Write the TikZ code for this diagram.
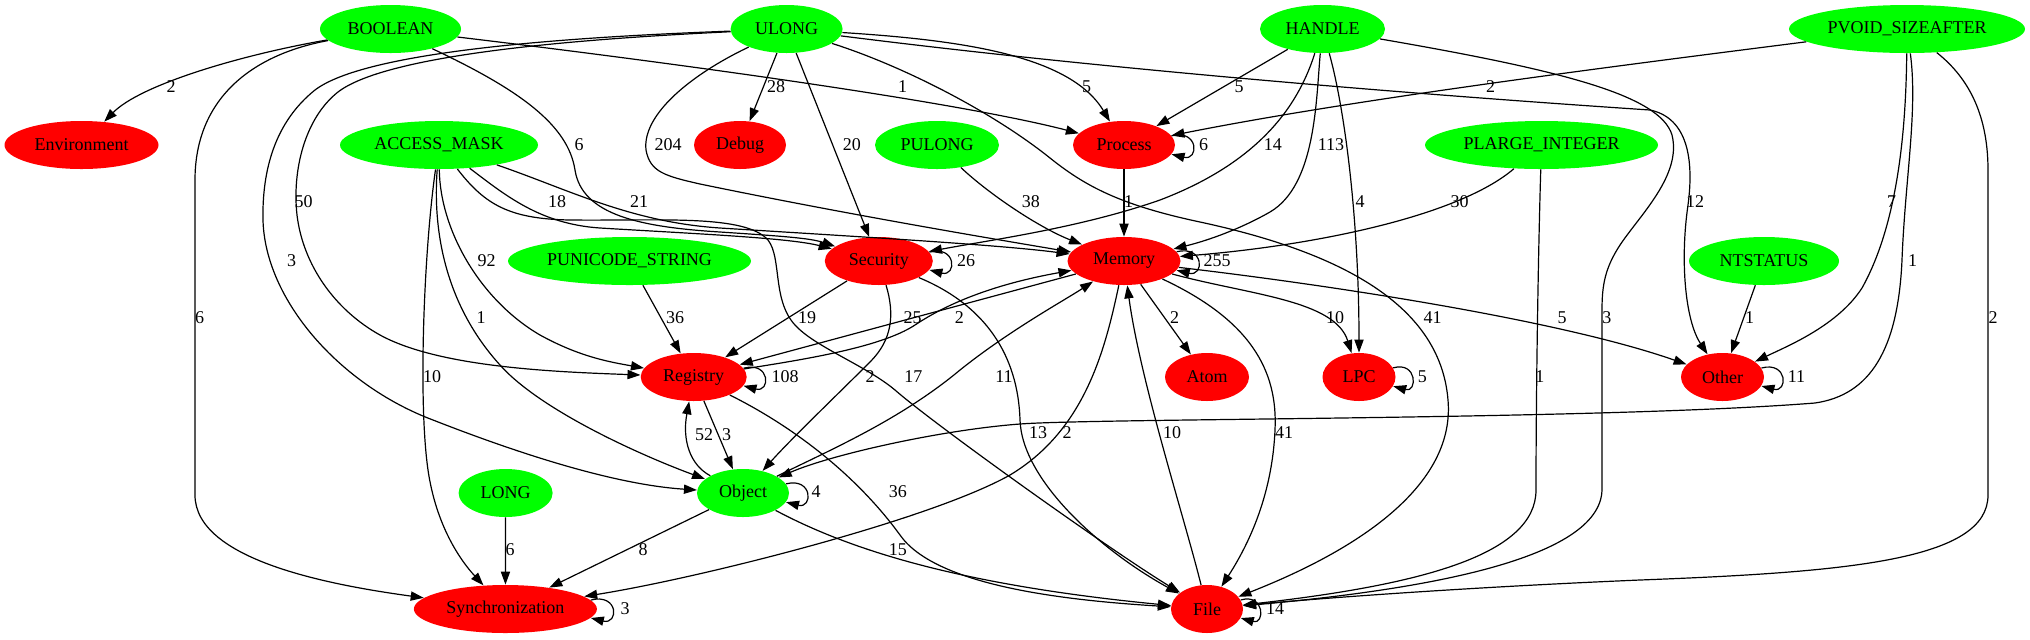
\documentclass[tikz,border=0pt]{standalone}
\usepackage{fontspec}
\setmainfont{Liberation Serif}
\usetikzlibrary{shapes.geometric,arrows.meta}
\definecolor{gg}{RGB}{0,255,0}
\definecolor{rr}{RGB}{255,0,0}
\begin{document}
\begin{tikzpicture}[x=0.5pt,y=-0.5pt,
  font=\fontsize{9}{10}\selectfont,
  nd/.style={ellipse,inner sep=0pt,minimum height=24pt,draw=none},
  gn/.style={nd,fill=gg},
  rn/.style={nd,fill=rr},
  e/.style={line width=0.6pt,-{Triangle[length=6.5pt,width=4.6pt]}},
  lbl/.style={inner sep=0pt}]
\fill[white] (0,0) rectangle (2030,639);
\useasboundingbox (0,0) rectangle (2030,639);
% nodes
\node[gn,minimum width=70.5pt] (BOOLEAN) at (390.5,29) {BOOLEAN};
\node[gn,minimum width=56pt] (ULONG) at (786.6,29) {ULONG};
\node[gn,minimum width=62.5pt] (HANDLE) at (1322.5,29) {HANDLE};
\node[gn,minimum width=118pt] (PVOID) at (1907,29) {PVOID\_SIZEAFTER};
\node[rn,minimum width=77pt] (Env) at (81.5,145) {Environment};
\node[gn,minimum width=99pt] (AM) at (439,145) {ACCESS\_MASK};
\node[rn,minimum width=46pt] (Debug) at (740,145) {Debug};
\node[gn,minimum width=62pt] (PULONG) at (937,145) {PULONG};
\node[rn,minimum width=51pt] (Process) at (1124,145) {Process};
\node[gn,minimum width=116.5pt] (PLI) at (1541.5,145) {PLARGE\_INTEGER};
\node[gn,minimum width=121.5pt] (PUS) at (629.5,261) {PUNICODE\_STRING};
\node[rn,minimum width=54pt] (Security) at (878.8,261) {Security};
\node[rn,minimum width=56.5pt] (Memory) at (1124,261) {Memory};
\node[gn,minimum width=75pt] (NTSTATUS) at (1764,261) {NTSTATUS};
\node[rn,minimum width=53pt] (Registry) at (693.7,377) {Registry};
\node[rn,minimum width=42pt] (Atom) at (1207,377) {Atom};
\node[rn,minimum width=36.5pt] (LPC) at (1359,377) {LPC};
\node[rn,minimum width=41.5pt] (Other) at (1722.5,377) {Other};
\node[gn,minimum width=47pt] (LONG) at (505.6,493) {LONG};
\node[gn,minimum width=46pt] (Object) at (743,493) {Object};
\node[rn,minimum width=91.5pt] (Sync) at (505.4,609) {Synchronization};
\node[rn,minimum width=36pt] (File) at (1207,609) {File};
% BOOLEAN
\draw[e] (BOOLEAN) .. controls (240,55) and (140,85) .. (Env);
\draw[e] (BOOLEAN) .. controls (650,60) and (950,100) .. (Process);
\draw[e] (BOOLEAN) .. controls (520,90) and (568,125) .. (575,170) .. controls (582,215) and (640,227) .. (720,232) .. controls (780,236) and (810,238) .. (Security);
\draw[e] (BOOLEAN) .. controls (250,55) and (195,100) .. (195,180) -- (195,495) .. controls (195,560) and (330,585) .. (Sync);
% ULONG
\draw[e] (ULONG) -- (Debug);
\draw[e] (ULONG) .. controls (960,40) and (1070,55) .. (Process);
\draw[e] (ULONG) -- (Security);
\draw[e] (ULONG) .. controls (690,75) and (642,115) .. (646,150) .. controls (650,172) and (665,176) .. (700,184) .. controls (850,215) and (1000,240) .. (Memory);
\draw[e] (ULONG) .. controls (600,38) and (390,52) .. (338,92) .. controls (305,118) and (292,170) .. (297,215) .. controls (303,265) and (335,310) .. (380,335) .. controls (440,368) and (560,372) .. (Registry);
\draw[e] (ULONG) .. controls (600,36) and (370,48) .. (315,90) .. controls (275,122) and (262,170) .. (263,220) .. controls (265,300) and (340,385) .. (433,420) .. controls (530,458) and (620,485) .. (Object);
\draw[e] (ULONG) .. controls (900,65) and (990,110) .. (1050,158) .. controls (1085,186) and (1120,205) .. (1200,222) .. controls (1330,250) and (1440,300) .. (1448,400) .. controls (1455,480) and (1370,545) .. (File);
\draw[e] (ULONG) .. controls (1150,75) and (1500,100) .. (1650,110) .. controls (1688,118) and (1694,160) .. (1688,205) .. controls (1680,260) and (1685,320) .. (Other);
% HANDLE
\draw[e] (HANDLE) -- (Process);
\draw[e] (HANDLE) .. controls (1300,100) and (1265,160) .. (1160,200) .. controls (1080,228) and (990,240) .. (Security);
\draw[e] (HANDLE) .. controls (1316,100) and (1316,185) .. (1270,212) .. controls (1242,228) and (1210,240) .. (Memory);
\draw[e] (HANDLE) .. controls (1345,110) and (1359,220) .. (LPC);
\draw[e] (HANDLE) .. controls (1560,70) and (1660,95) .. (1672,135) .. controls (1682,175) and (1640,215) .. (1620,245) .. controls (1605,268) and (1602,285) .. (1602,310) -- (1602,490) .. controls (1600,560) and (1420,590) .. (File);
% PVOID_SIZEAFTER
\draw[e] (PVOID) .. controls (1600,68) and (1350,100) .. (Process);
\draw[e] (PVOID) .. controls (1906,120) and (1900,220) .. (1862,288) .. controls (1838,325) and (1790,345) .. (Other);
\draw[e] (PVOID) .. controls (1918,110) and (1905,180) .. (1902,260) .. controls (1898,350) and (1870,395) .. (1815,403) .. controls (1600,420) and (1100,418) .. (1020,424) .. controls (940,430) and (830,455) .. (Object);
\draw[e] (PVOID) .. controls (1965,75) and (1988,110) .. (1988,170) -- (1988,495) .. controls (1988,560) and (1850,572) .. (1640,580) .. controls (1450,588) and (1300,600) .. (File);
% ACCESS_MASK
\draw[e] (AM) .. controls (505,195) and (540,224) .. (600,228) .. controls (700,234) and (790,238) .. (Security);
\draw[e] (AM) .. controls (570,190) and (630,222) .. (720,228) .. controls (880,238) and (1000,245) .. (Memory);
\draw[e] (AM) .. controls (485,205) and (510,219) .. (570,220) .. controls (660,221) and (745,214) .. (768,240) .. controls (782,258) and (772,300) .. (795,325) .. controls (815,347) and (865,365) .. (895,390) .. controls (935,425) and (1110,550) .. (File);
\draw[e] (AM) .. controls (440,230) and (480,300) .. (540,335) .. controls (580,357) and (610,362) .. (Registry);
\draw[e] (AM) .. controls (432,240) and (450,310) .. (500,365) .. controls (540,410) and (640,455) .. (Object);
\draw[e] (AM) .. controls (424,250) and (418,400) .. (428,470) .. controls (436,525) and (460,560) .. (Sync);
% others
\draw[e] (PULONG) .. controls (990,195) and (1040,228) .. (Memory);
\draw[e] (Process) -- (Memory);
\draw[e] (PLI) .. controls (1460,215) and (1320,245) .. (Memory);
\draw[e] (PLI) .. controls (1538,260) and (1536,400) .. (1536,490) .. controls (1536,555) and (1420,585) .. (File);
\draw[e] (PUS) -- (Registry);
\draw[e] (NTSTATUS) -- (Other);
\draw[e] (LONG) -- (Sync);
% Security
\draw[e] (Security) -- (Registry);
\draw[e] (Security) .. controls (895,315) and (892,340) .. (870,362) .. controls (840,392) and (790,440) .. (Object);
\draw[e] (Security) .. controls (985,305) and (1018,355) .. (1020,420) .. controls (1022,480) and (1100,550) .. (File);
% Memory
\draw[e] (Memory) -- (Registry);
\draw[e] (Memory) -- (Atom);
\draw[e] (Memory) .. controls (1250,295) and (1335,300) .. (LPC);
\draw[e] (Memory) .. controls (1330,285) and (1560,320) .. (Other);
\draw[e] (Memory) .. controls (1105,350) and (1085,430) .. (1010,475) .. controls (930,520) and (700,578) .. (Sync);
\draw[e] (Memory) .. controls (1250,320) and (1278,370) .. (1275,430) .. controls (1272,500) and (1245,550) .. (File);
% Registry
\draw[e] (Registry) .. controls (800,360) and (880,348) .. (915,325) .. controls (945,305) and (990,285) .. (Memory);
\draw[e] (Registry) -- (Object);
\draw[e] (Registry) .. controls (800,430) and (860,480) .. (900,535) .. controls (935,585) and (1060,600) .. (File);
% Object
\draw[e] (Object) .. controls (690,465) and (682,440) .. (Registry);
\draw[e] (Object) -- (Sync);
\draw[e] (Object) .. controls (850,550) and (960,585) .. (File);
\draw[e] (Object) .. controls (830,450) and (900,420) .. (960,370) .. controls (1010,330) and (1065,300) .. (Memory);
% File
\draw[e] (File) .. controls (1185,520) and (1140,380) .. (Memory);
% self loops
\draw[e] (Process.11) .. controls (1199,129) and (1199,161) .. (Process.-11);
\draw[e] (Security.10) .. controls (956.8,245) and (956.8,277) .. (Security.-10);
\draw[e] (Memory.10) .. controls (1204.5,245) and (1204.5,277) .. (Memory.-10);
\draw[e] (Registry.10) .. controls (770.7,361) and (770.7,393) .. (Registry.-10);
\draw[e] (LPC.15) .. controls (1417.5,361) and (1417.5,393) .. (LPC.-15);
\draw[e] (Other.13) .. controls (1788,361) and (1788,393) .. (Other.-13);
\draw[e] (Object.12) .. controls (813,477) and (813,509) .. (Object.-12);
\draw[e] (Sync.6) .. controls (618.9,593) and (618.9,625) .. (Sync.-6);
\draw[e] (File.15) .. controls (1265,593) and (1265,625) .. (File.-15);
% labels
\node[lbl] (l1) at (171,87) {2};
\node[lbl] (l2) at (902.7,87) {1};
\node[lbl] (l3) at (776,87) {28};
\node[lbl] (l4) at (1086.6,87) {5};
\node[lbl] (l5) at (1239,87) {5};
\node[lbl] (l6) at (1490.7,87) {2};
\node[lbl] (l7) at (579,145) {6};
\node[lbl] (l8) at (668,145) {204};
\node[lbl] (l9) at (851.8,145) {20};
\node[lbl] (l10) at (1203.6,145) {6};
\node[lbl] (l11) at (1272.8,145) {14};
\node[lbl] (l12) at (1331,145) {113};
\node[lbl] (l13) at (303.5,202) {50};
\node[lbl] (l14) at (557,202) {18};
\node[lbl] (l15) at (639,202) {21};
\node[lbl] (l16) at (1030.8,202) {38};
\node[lbl] (l17) at (1128.6,202) {1};
\node[lbl] (l18) at (1360,202) {4};
\node[lbl] (l19) at (1459.5,202) {30};
\node[lbl] (l20) at (1695,202) {12};
\node[lbl] (l21) at (1891.6,202) {7};
\node[lbl] (l22) at (291.5,261) {3};
\node[lbl] (l23) at (486.6,261) {92};
\node[lbl] (l24) at (966,261) {26};
\node[lbl] (l25) at (1217,261) {255};
\node[lbl] (l26) at (1912.6,261) {1};
\node[lbl] (l27) at (199.6,318) {6};
\node[lbl] (l28) at (481,318) {1};
\node[lbl] (l29) at (675,318) {36};
\node[lbl] (l30) at (807,318) {19};
\node[lbl] (l31) at (912.5,318) {25};
\node[lbl] (l32) at (959.4,318) {2};
\node[lbl] (l33) at (1174.5,318) {2};
\node[lbl] (l34) at (1335,318) {10};
\node[lbl] (l35) at (1432.7,318) {41};
\node[lbl] (l36) at (1562,318) {5};
\node[lbl] (l37) at (1606.8,318) {3};
\node[lbl] (l38) at (1749.6,318) {1};
\node[lbl] (l39) at (1993,318) {2};
\node[lbl] (l40) at (432,377) {10};
\node[lbl] (l41) at (785,377) {108};
\node[lbl] (l42) at (870,377) {2};
\node[lbl] (l43) at (913.4,377) {17};
\node[lbl] (l44) at (1004,377) {11};
\node[lbl] (l45) at (1422.4,377) {5};
\node[lbl] (l46) at (1539.8,377) {1};
\node[lbl] (l47) at (1796.5,377) {11};
\node[lbl] (l48) at (704,435) {52};
\node[lbl] (l49) at (726.7,435) {3};
\node[lbl] (l50) at (1038,433) {13};
\node[lbl] (l51) at (1067,433) {2};
\node[lbl] (l52) at (1172,433) {10};
\node[lbl] (l53) at (1284,433) {41};
\node[lbl] (l54) at (816,492) {4};
\node[lbl] (l55) at (897.8,492) {36};
\node[lbl] (l56) at (510,550) {6};
\node[lbl] (l57) at (643,550) {8};
\node[lbl] (l58) at (897.8,550) {15};
\node[lbl] (l59) at (625,609) {3};
\node[lbl] (l60) at (1275,609) {14};
\end{tikzpicture}
\end{document}
